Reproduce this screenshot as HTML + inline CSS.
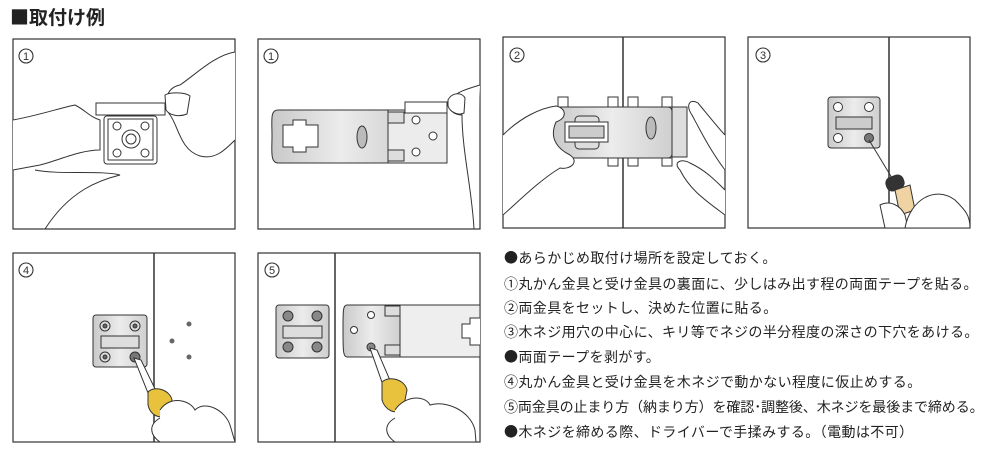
<!DOCTYPE html>
<html><head><meta charset="utf-8"><style>
html,body{margin:0;padding:0;background:#fff;width:982px;height:456px;overflow:hidden}
svg{position:absolute;left:0;top:0}
.ttl{position:absolute;left:10px;top:4px;font-size:19px;font-weight:bold;color:#222;font-family:"Noto Sans CJK JP","Liberation Sans",sans-serif;line-height:26px}
.ln{position:absolute;left:504px;font-size:14px;line-height:20px;white-space:nowrap;letter-spacing:0.4px;font-family:"Noto Sans CJK JP","Liberation Sans",sans-serif;color:#222}
</style></head><body>
<svg width="982" height="456" viewBox="0 0 982 456" font-family="Liberation Sans, DejaVu Sans, sans-serif">
<defs>
<linearGradient id="g" x1="0" x2="1"><stop offset="0" stop-color="#c9c9c9"/><stop offset=".5" stop-color="#ececec"/><stop offset="1" stop-color="#cfcfcf"/></linearGradient>
</defs>
<g fill="none" stroke="#333" stroke-width="1.2">
<rect x="13" y="39" width="222" height="190"/>
<rect x="258" y="39" width="222" height="190"/>
<rect x="503" y="37" width="222" height="191"/>
<rect x="748" y="37" width="222" height="191"/>
<rect x="13" y="253" width="222" height="189"/>
<rect x="258" y="253" width="222" height="189"/>
<line x1="623" y1="37" x2="623" y2="228" stroke-width="1.5"/>
<line x1="889" y1="37" x2="889" y2="228" stroke-width="1.5"/>
<line x1="154" y1="253" x2="154" y2="442" stroke-width="1.5"/>
<line x1="335" y1="253" x2="335" y2="442" stroke-width="1.5"/>
</g>
<g fill="none" stroke="#333" stroke-width="1.1">
<circle cx="26" cy="56" r="7"/><circle cx="271" cy="56" r="7"/><circle cx="517" cy="55" r="7"/><circle cx="763" cy="55" r="7"/><circle cx="26" cy="270" r="7"/><circle cx="272" cy="270" r="7"/>
</g>
<g font-size="11" fill="#333" text-anchor="middle">
<text x="26" y="60">1</text><text x="271" y="60">1</text><text x="517" y="59">2</text><text x="763" y="59">3</text><text x="26" y="274">4</text><text x="272" y="274">5</text>
</g>
<!-- panel 1 -->
<g fill="#fff" stroke="#333" stroke-width="1">
<path d="M13 120 C40 115 60 108 75 105 C85 110 90 117 100 120 L100 150 C80 150 60 160 40 165 L13 170"/>
<rect x="104" y="116" width="53" height="48" rx="3"/>
<rect x="108" y="119" width="45" height="41"/>
<circle cx="117" cy="126" r="4"/><circle cx="145" cy="126" r="4"/><circle cx="117" cy="153" r="4"/><circle cx="145" cy="153" r="4"/>
<circle cx="131" cy="139" r="9"/><circle cx="131" cy="139" r="5"/>
<rect x="96" y="103" width="69" height="12"/>
<path d="M235 52 C215 55 195 75 180 85 C165 88 163 105 170 115 C178 125 180 150 200 156 C215 160 225 150 235 140"/>
<path d="M165 95 C170 92 185 92 190 96 L187 114 C180 117 170 116 166 110 Z"/>
<path d="M45 229 C70 190 100 180 120 175 C100 170 60 175 35 170"/>
</g>
<!-- panel 2 -->
<g stroke="#333" stroke-width="1">
<path d="M278 110 L410 110 L410 163 L278 163 C270 163 272 150 272 136 C272 120 270 110 278 110 Z" fill="url(#g)"/>
<path d="M295 125 L305 125 L305 120 L318 120 L318 125 L330 125 L330 147 L318 147 L318 152 L305 152 L305 147 L295 147 Z" fill="#fff" transform="translate(-12,0)"/>
<ellipse cx="362" cy="137" rx="5" ry="11" fill="#bbb"/>
<rect x="388" y="110" width="59" height="53" fill="#ececec"/>
<rect x="388" y="112" width="16" height="11" fill="#ddd"/><rect x="388" y="150" width="16" height="11" fill="#ddd"/>
<circle cx="416" cy="120" r="4" fill="#fff"/><circle cx="433" cy="136" r="4" fill="#fff"/><circle cx="416" cy="152" r="4" fill="#fff"/>
<rect x="405" y="102" width="42" height="11" fill="#fff"/>
<path d="M480 85 C470 88 455 92 450 100 C446 110 455 115 462 115 C462 150 472 190 474 229" fill="#fff"/>
<path d="M448 100 C452 92 462 92 465 98 L464 113 C458 116 450 112 448 106 Z" fill="#fff"/>
</g>
<!-- panel 3 -->
<g stroke="#333" stroke-width="1">
<rect x="558" y="97" width="10" height="10" fill="#fff"/><rect x="608" y="97" width="10" height="10" fill="#fff"/><rect x="628" y="97" width="10" height="10" fill="#fff"/><rect x="662" y="97" width="10" height="10" fill="#fff"/>
<rect x="558" y="158" width="10" height="8" fill="#fff"/><rect x="608" y="158" width="10" height="8" fill="#fff"/><rect x="628" y="158" width="10" height="8" fill="#fff"/><rect x="662" y="158" width="10" height="8" fill="#fff"/>
<rect x="552" y="107" width="120" height="51" rx="4" fill="url(#g)"/>
<rect x="672" y="107" width="15" height="50" fill="#ddd"/>
<rect x="575" y="116" width="24" height="33" rx="4" fill="#ddd"/>
<rect x="565" y="122" width="43" height="20" fill="#fff"/><rect x="569" y="126" width="35" height="12" fill="#ccc"/>
<ellipse cx="651" cy="128" rx="5" ry="11" fill="#bbb"/>
<path d="M503 135 C520 118 540 108 556 106 C566 108 568 118 556 122 C548 140 560 150 570 155 C580 162 570 170 560 168 C540 180 520 200 503 215" fill="#fff"/>
<path d="M725 170 C710 150 700 130 692 115 C685 105 690 98 698 103 C712 120 720 130 725 135" fill="#fff"/>
<path d="M725 215 C705 200 690 190 680 170 C672 162 682 158 690 163 C705 170 715 180 725 190" fill="#fff"/>
</g>
<!-- panel 4 row1 -->
<g stroke="#333" stroke-width="1">
<rect x="828" y="97" width="52" height="51" rx="3" fill="url(#g)"/>
<circle cx="838" cy="107" r="4.5" fill="#fff"/><circle cx="869" cy="107" r="4.5" fill="#fff"/><circle cx="838" cy="138" r="4.5" fill="#fff"/><circle cx="869" cy="138" r="4.5" fill="#777"/>
<rect x="836" y="117" width="36" height="12" fill="#ccc"/>
<line x1="869" y1="140" x2="892" y2="178"/>
<rect x="886" y="176" width="18" height="14" rx="6" fill="#333" transform="rotate(-20 895 183)"/>
<path d="M895 190 L910 185 L915 210 L900 215 Z" fill="#efd3a2"/>
<path d="M880 205 C890 200 900 205 905 215 L908 228 L885 228 Z" fill="#fff"/>
<path d="M905 228 C910 200 935 185 955 200 C965 210 970 215 970 228 Z" fill="#fff"/>
</g>
<!-- row2 panel 4 -->
<g stroke="#333" stroke-width="1">
<rect x="93" y="315" width="54" height="52" rx="3" fill="url(#g)"/>
<circle cx="105" cy="326" r="5" fill="#ddd"/><circle cx="135" cy="326" r="5" fill="#ddd"/><circle cx="105" cy="357" r="5" fill="#ddd"/><circle cx="135" cy="357" r="5" fill="#777"/>
<circle cx="105" cy="326" r="2" fill="#666"/><circle cx="135" cy="326" r="2" fill="#666"/><circle cx="105" cy="357" r="2" fill="#666"/>
<rect x="101" y="336" width="38" height="12" fill="#ddd"/>
<path d="M134 358 L141 360 L158 395 L150 398 Z" fill="#fff"/>
<path d="M148 392 C155 385 170 390 172 400 L168 415 C160 420 150 415 148 405 Z" fill="#e8c23c"/>
<path d="M160 410 C170 395 190 400 195 410 C205 400 225 410 230 425 L235 442 L160 442 C150 435 148 425 160 418" fill="#fff"/>
</g>
<g fill="#666"><circle cx="189" cy="324" r="2.5"/><circle cx="172" cy="341" r="2.5"/><circle cx="189" cy="357" r="2.5"/></g>
<!-- row2 panel 5 -->
<g stroke="#333" stroke-width="1">
<rect x="276" y="305" width="53" height="53" rx="3" fill="url(#g)"/>
<g fill="#888"><circle cx="288" cy="316" r="5"/><circle cx="317" cy="316" r="5"/><circle cx="288" cy="347" r="5"/><circle cx="317" cy="347" r="5"/></g>
<rect x="283" y="326" width="39" height="12" fill="#ddd"/>
<path d="M347 305 L400 305 L400 357 L347 357 C343 357 343 350 343 330 C343 310 343 305 347 305 Z" fill="url(#g)"/>
<rect x="400" y="305" width="80" height="52" fill="#eee"/>
<path d="M480 318 L470 318 L470 324 L462 324 L462 338 L470 338 L470 345 L480 345" fill="#fff"/>
<rect x="385" y="306" width="15" height="10" fill="#ddd"/><rect x="385" y="345" width="15" height="10" fill="#ddd"/>
<circle cx="371" cy="315" r="3.5" fill="#fff"/><circle cx="354" cy="330" r="3.5" fill="#fff"/><circle cx="371" cy="347" r="4" fill="#888"/>
<path d="M370 348 L377 350 L392 385 L384 388 Z" fill="#fff"/>
<path d="M382 382 C390 375 405 380 407 390 L403 410 C395 415 385 410 382 400 Z" fill="#e8c23c"/>
<path d="M395 410 C405 395 425 395 430 405 C445 400 470 410 475 430 L476 442 L395 442 C385 435 383 425 395 418" fill="#fff"/>
</g>
</svg>
<div class="ttl">■取付け例</div>
<div class="ln" style="top:248px">●あらかじめ取付け場所を設定しておく。</div>
<div class="ln" style="top:274px">①丸かん金具と受け金具の裏面に、少しはみ出す程の両面テープを貼る。</div>
<div class="ln" style="top:298px">②両金具をセットし、決めた位置に貼る。</div>
<div class="ln" style="top:322px">③木ネジ用穴の中心に、キリ等でネジの半分程度の深さの下穴をあける。</div>
<div class="ln" style="top:347px">●両面テープを剥がす。</div>
<div class="ln" style="top:372px">④丸かん金具と受け金具を木ネジで動かない程度に仮止めする。</div>
<div class="ln" style="top:397px;letter-spacing:-0.1px">⑤両金具の止まり方（納まり方）を確認･調整後、木ネジを最後まで締める。</div>
<div class="ln" style="top:422px">●木ネジを締める際、ドライバーで手揉みする。（電動は不可）</div>
</body></html>
